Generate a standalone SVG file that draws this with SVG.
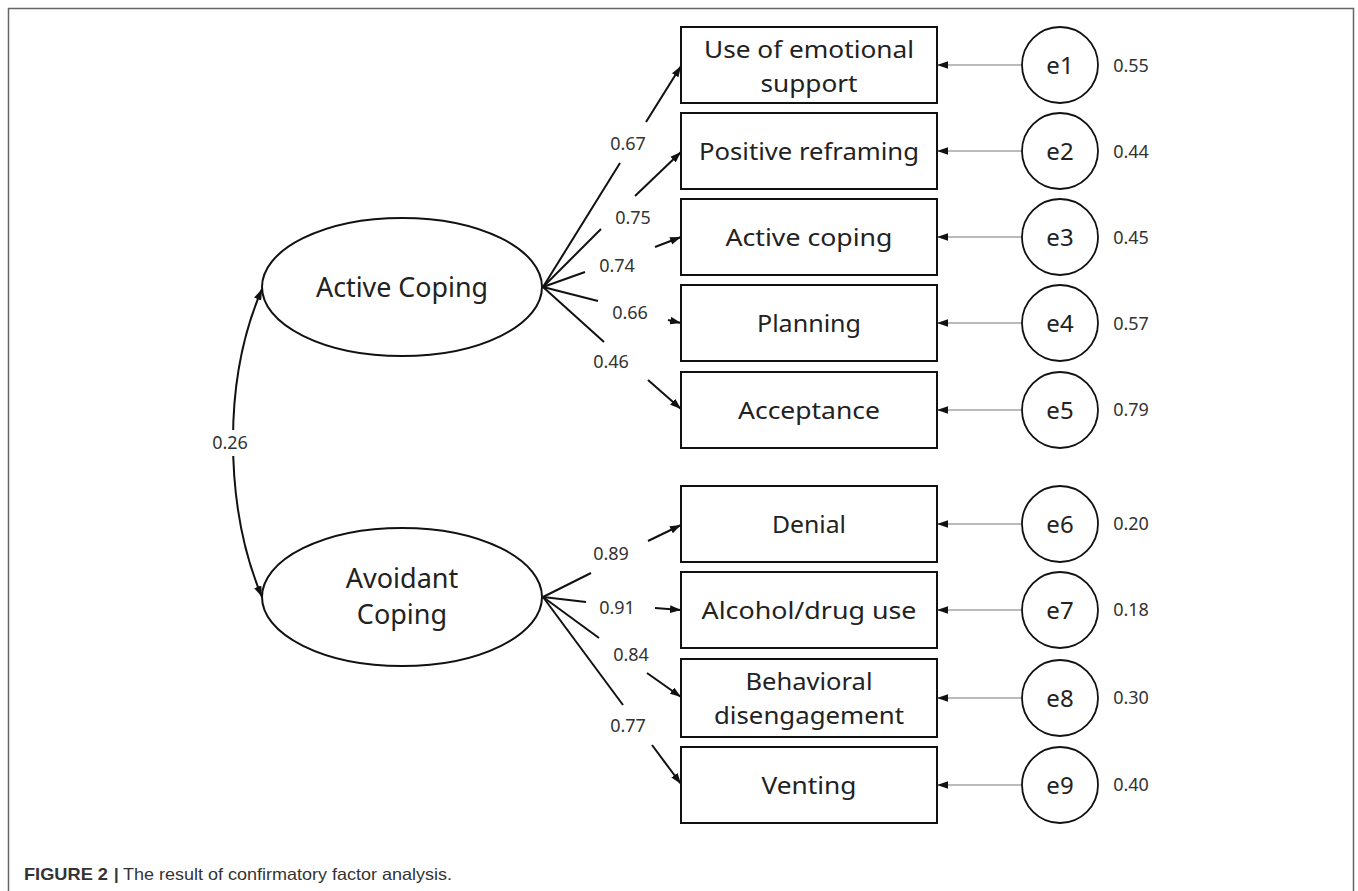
<svg xmlns="http://www.w3.org/2000/svg" width="1358" height="891" viewBox="0 0 1358 891">
<style>
.box{fill:#fff;stroke:#111;stroke-width:2}
.lat{fill:#fff;stroke:#111;stroke-width:2}
.err{fill:#fff;stroke:#111;stroke-width:1.8}
.lbl{font-family:"Noto Sans","Open Sans",sans-serif;font-size:24px;fill:#222;text-anchor:middle}
.big{font-family:"Noto Sans","Open Sans",sans-serif;font-size:27px;fill:#222;text-anchor:middle}
.num{font-family:"Noto Sans","Open Sans",sans-serif;font-size:18px;fill:#333;text-anchor:middle}
.ld{stroke:#111;stroke-width:2;fill:none}
.ev{stroke:#777;stroke-width:1.2;fill:none}
.cap{font-family:"Liberation Sans",Arial,sans-serif;font-size:16.5px;fill:#333}
</style>
<defs>
<marker id="ah" viewBox="0 0 10 7" refX="10" refY="3.5" markerUnits="userSpaceOnUse" markerWidth="11" markerHeight="8" orient="auto-start-reverse">
<path d="M0,0 L10,3.5 L0,7 z" fill="#111"/>
</marker>
</defs>
<rect width="1358" height="891" fill="#fff"/>
<path d="M8.5,891 V8.5 H1353.5 V891" fill="none" stroke="#666" stroke-width="1.5"/>

<g id="connectors">
<path class="ld" d="M262,289 C240,340 233,390 233,440 C233,490 240,545 262,597" marker-start="url(#ah)" marker-end="url(#ah)"/>
<rect x="207" y="430" width="46" height="26" fill="#fff"/>
<text class="num" x="230" y="449">0.26</text>

<line class="ld" x1="543" y1="287" x2="620" y2="163"/><line class="ld" x1="646" y1="122" x2="681" y2="66" marker-end="url(#ah)"/>
<line class="ld" x1="543" y1="287" x2="601" y2="229"/><line class="ld" x1="635" y1="196" x2="681" y2="152" marker-end="url(#ah)"/>
<line class="ld" x1="543" y1="287" x2="585" y2="272"/><line class="ld" x1="655" y1="247" x2="681" y2="237" marker-end="url(#ah)"/>
<line class="ld" x1="543" y1="287" x2="598" y2="301"/><line class="ld" x1="668" y1="320" x2="681" y2="323" marker-end="url(#ah)"/>
<line class="ld" x1="543" y1="287" x2="604" y2="342"/><line class="ld" x1="648" y1="380" x2="681" y2="409" marker-end="url(#ah)"/>

<line class="ld" x1="543" y1="597" x2="591" y2="573"/><line class="ld" x1="648" y1="541" x2="681" y2="525" marker-end="url(#ah)"/>
<line class="ld" x1="543" y1="597" x2="586" y2="602"/><line class="ld" x1="655" y1="608" x2="681" y2="610" marker-end="url(#ah)"/>
<line class="ld" x1="543" y1="597" x2="599" y2="638"/><line class="ld" x1="647" y1="673" x2="681" y2="697" marker-end="url(#ah)"/>
<line class="ld" x1="543" y1="597" x2="623" y2="705"/><line class="ld" x1="652" y1="745" x2="681" y2="784" marker-end="url(#ah)"/>

<text class="num" x="628" y="150">0.67</text>
<text class="num" x="633" y="224">0.75</text>
<text class="num" x="617" y="272">0.74</text>
<text class="num" x="630" y="319">0.66</text>
<text class="num" x="611" y="368">0.46</text>
<text class="num" x="611" y="560">0.89</text>
<text class="num" x="617" y="614">0.91</text>
<text class="num" x="631" y="661">0.84</text>
<text class="num" x="628" y="732">0.77</text>

<line class="ev" x1="1022" y1="65" x2="937" y2="65" marker-end="url(#ah)"/>
<line class="ev" x1="1022" y1="151" x2="937" y2="151" marker-end="url(#ah)"/>
<line class="ev" x1="1022" y1="237" x2="937" y2="237" marker-end="url(#ah)"/>
<line class="ev" x1="1022" y1="323" x2="937" y2="323" marker-end="url(#ah)"/>
<line class="ev" x1="1022" y1="410" x2="937" y2="410" marker-end="url(#ah)"/>
<line class="ev" x1="1022" y1="524" x2="937" y2="524" marker-end="url(#ah)"/>
<line class="ev" x1="1022" y1="610" x2="937" y2="610" marker-end="url(#ah)"/>
<line class="ev" x1="1022" y1="698" x2="937" y2="698" marker-end="url(#ah)"/>
<line class="ev" x1="1022" y1="785" x2="937" y2="785" marker-end="url(#ah)"/>
</g>

<g id="active-coping"><ellipse class="lat" cx="402" cy="287" rx="140" ry="69"/><text class="big" x="402" y="297" textLength="172" lengthAdjust="spacingAndGlyphs">Active Coping</text></g>
<g id="avoidant-coping"><ellipse class="lat" cx="402" cy="597" rx="140" ry="69"/><text class="big" x="402" y="588">Avoidant</text><text class="big" x="402" y="624">Coping</text></g>

<g id="box1"><rect class="box" x="681" y="27" width="256" height="76"/><text class="lbl" x="809" y="58" textLength="210" lengthAdjust="spacingAndGlyphs">Use of emotional</text><text class="lbl" x="809" y="92" textLength="97" lengthAdjust="spacingAndGlyphs">support</text></g>
<g id="box2"><rect class="box" x="681" y="113" width="256" height="76"/><text class="lbl" x="809" y="160" textLength="220" lengthAdjust="spacingAndGlyphs">Positive reframing</text></g>
<g id="box3"><rect class="box" x="681" y="199" width="256" height="76"/><text class="lbl" x="809" y="246" textLength="167" lengthAdjust="spacingAndGlyphs">Active coping</text></g>
<g id="box4"><rect class="box" x="681" y="285" width="256" height="76"/><text class="lbl" x="809" y="332" textLength="104" lengthAdjust="spacingAndGlyphs">Planning</text></g>
<g id="box5"><rect class="box" x="681" y="372" width="256" height="76"/><text class="lbl" x="809" y="419" textLength="142" lengthAdjust="spacingAndGlyphs">Acceptance</text></g>
<g id="box6"><rect class="box" x="681" y="486" width="256" height="76"/><text class="lbl" x="809" y="533" textLength="74" lengthAdjust="spacingAndGlyphs">Denial</text></g>
<g id="box7"><rect class="box" x="681" y="572" width="256" height="76"/><text class="lbl" x="809" y="619" textLength="215" lengthAdjust="spacingAndGlyphs">Alcohol/drug use</text></g>
<g id="box8"><rect class="box" x="681" y="659" width="256" height="78"/><text class="lbl" x="809" y="690" textLength="127" lengthAdjust="spacingAndGlyphs">Behavioral</text><text class="lbl" x="809" y="724" textLength="190" lengthAdjust="spacingAndGlyphs">disengagement</text></g>
<g id="box9"><rect class="box" x="681" y="747" width="256" height="76"/><text class="lbl" x="809" y="794" textLength="95" lengthAdjust="spacingAndGlyphs">Venting</text></g>

<g id="e1"><circle class="err" cx="1060" cy="65" r="38"/><text class="lbl" x="1060" y="74">e1</text><text class="num" x="1131" y="72">0.55</text></g>
<g id="e2"><circle class="err" cx="1060" cy="151" r="38"/><text class="lbl" x="1060" y="160">e2</text><text class="num" x="1131" y="158">0.44</text></g>
<g id="e3"><circle class="err" cx="1060" cy="237" r="38"/><text class="lbl" x="1060" y="246">e3</text><text class="num" x="1131" y="244">0.45</text></g>
<g id="e4"><circle class="err" cx="1060" cy="323" r="38"/><text class="lbl" x="1060" y="332">e4</text><text class="num" x="1131" y="330">0.57</text></g>
<g id="e5"><circle class="err" cx="1060" cy="410" r="38"/><text class="lbl" x="1060" y="419">e5</text><text class="num" x="1131" y="416">0.79</text></g>
<g id="e6"><circle class="err" cx="1060" cy="524" r="38"/><text class="lbl" x="1060" y="533">e6</text><text class="num" x="1131" y="530">0.20</text></g>
<g id="e7"><circle class="err" cx="1060" cy="610" r="38"/><text class="lbl" x="1060" y="619">e7</text><text class="num" x="1131" y="616">0.18</text></g>
<g id="e8"><circle class="err" cx="1060" cy="698" r="38"/><text class="lbl" x="1060" y="707">e8</text><text class="num" x="1131" y="704">0.30</text></g>
<g id="e9"><circle class="err" cx="1060" cy="785" r="38"/><text class="lbl" x="1060" y="794">e9</text><text class="num" x="1131" y="791">0.40</text></g>

<g id="caption">
<text class="cap" x="24" y="880" font-weight="bold" textLength="84" lengthAdjust="spacingAndGlyphs">FIGURE 2</text>
<text class="cap" x="114" y="880" font-weight="bold">|</text>
<text class="cap" x="123" y="880" textLength="329" lengthAdjust="spacingAndGlyphs">The result of confirmatory factor analysis.</text>
</g>
</svg>
